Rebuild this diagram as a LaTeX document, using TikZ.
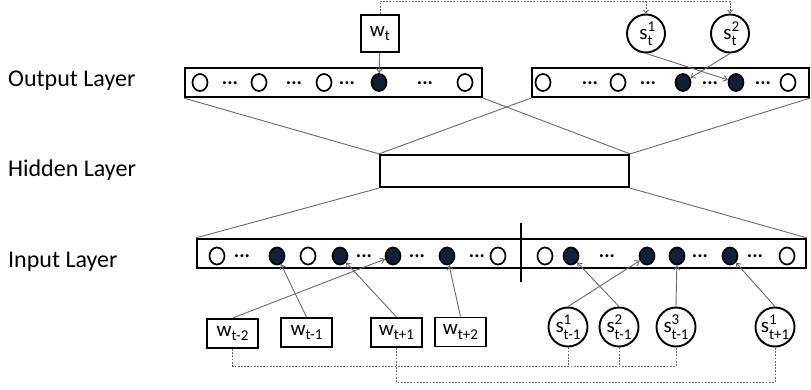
\documentclass[tikz,border=0pt]{standalone}
\usepackage{fontspec}
\setmainfont{Carlito}
\usepackage{tikz}
\usetikzlibrary{shapes.geometric, arrows.meta, positioning}
\definecolor{navy}{RGB}{16,32,56}
\definecolor{linkgray}{RGB}{105,105,105}
\newcommand{\layerfont}{\fontsize{24}{28}\selectfont}
\newcommand{\unitfont}{\fontsize{21}{24}\selectfont}
\newcommand{\dotsfont}{\fontsize{20}{22}\selectfont\bfseries}
\newcommand{\idx}[1]{\raisebox{-4.5pt}{\fontsize{15}{15}\selectfont #1}}
\newcommand{\sense}[2]{s\rlap{\raisebox{8pt}{\fontsize{15}{15}\selectfont #1}}\raisebox{-6.5pt}{\fontsize{15}{15}\selectfont #2}}
\tikzset{
    layer/.style={rectangle, draw, line width=2.2pt, minimum height=29pt, inner sep=0pt},
    lbl/.style={anchor=base west, inner sep=0pt, font=\layerfont},
    wordbox/.style={rectangle, draw, line width=1.9pt, minimum width=51pt, minimum height=29pt, inner sep=0pt, font=\unitfont},
    sensebox/.style={circle, draw, line width=1.9pt, minimum size=39pt, inner sep=0pt, font=\unitfont},
    unit/.style={ellipse, draw, line width=1.7pt, minimum width=15pt, minimum height=17pt, inner sep=0pt},
    hot/.style={unit, fill=navy},
    ellip/.style={inner sep=0pt, font=\dotsfont},
    arrow/.style={-{Straight Barb[length=4pt,width=6pt]}, linkgray, line width=0.9pt},
    link/.style={linkgray, line width=0.9pt},
    dashlink/.style={linkgray, line width=0.9pt, dash pattern=on 1.8pt off 1.4pt}
}

\begin{document}
\begin{tikzpicture}[x=1pt, y=-1pt]
    \useasboundingbox (0,0) rectangle (811,390);

    % layer names
    \node (lout) [lbl] at (8,87) {Output Layer};
    \node (lhid) [lbl] at (8,177) {Hidden Layer};
    \node (linp) [lbl] at (8,267) {Input Layer};

    % layers
    \node (outl) [layer, minimum width=297pt] at (333.5,82.5) {};
    \node (outr) [layer, minimum width=277pt] at (670.5,82.5) {};
    \node (hid) [layer, minimum width=249pt, minimum height=32pt] at (504.5,171) {};
    \node (inp) [layer, minimum width=609pt] at (501.5,253.5) {};
    \draw[line width=2.2pt] (521,223) -- (521,282);

    % output units
    \foreach \x [count=\i] in {200,259,324,465,543,618,788}
        \node (ou\i) [unit] at (\x,82.5) {};
    \node (oa) [hot] at (379,82.5) {};
    \node (ob1) [hot] at (683,82.5) {};
    \node (ob2) [hot] at (736,82.5) {};
    \foreach \x [count=\i] in {230,294,347,425,590,648,710,763}
        \node (od\i) [ellip] at (\x,83) {...};

    % input units
    \foreach \x [count=\i] in {217,308,498,545,787}
        \node (iu\i) [unit] at (\x,256) {};
    \node (ia) [hot] at (277,256) {};
    \node (ib) [hot] at (340,256) {};
    \node (ic) [hot] at (393,256) {};
    \node (id) [hot] at (447,256) {};
    \node (ie) [hot] at (571,256) {};
    \node (if) [hot] at (647,256) {};
    \node (ig) [hot] at (677,256) {};
    \node (ih) [hot] at (730,256) {};
    \foreach \x [count=\i] in {242,364,417,477,607,700,755}
        \node (id\i) [ellip] at (\x,256.5) {...};

    % target word and senses
    \node (wt) [wordbox, minimum width=38pt, minimum height=37pt] at (380,33.5) {w\idx{t}};
    \node (st1) [sensebox, minimum size=38pt] at (646,33.5) {\sense{1}{t}};
    \node (st2) [sensebox, minimum size=38pt] at (730,33.5) {\sense{2}{t}};

    % context words and senses
    \node (wtm2) [wordbox] at (232.5,333.5) {w\idx{t-2}};
    \node (wtm1) [wordbox] at (306.5,332.5) {w\idx{t-1}};
    \node (wtp1) [wordbox] at (396.5,332.5) {w\idx{t+1}};
    \node (wtp2) [wordbox] at (460.5,332) {w\idx{t+2}};
    \node (sc1) [sensebox] at (568,327) {\sense{1}{t-1}};
    \node (sc2) [sensebox] at (619,327) {\sense{2}{t-1}};
    \node (sc3) [sensebox] at (676,327) {\sense{3}{t-1}};
    \node (sc4) [sensebox] at (775,327) {\sense{1}{t+1}};

    % layer links
    \draw[link] (outl.south west) -- (hid.north west);
    \draw[link] (outl.south east) -- (hid.north east);
    \draw[link] (outr.south west) -- (hid.north west);
    \draw[link] (outr.south east) -- (hid.north east);
    \draw[link] (hid.south west) -- (inp.north west);
    \draw[link] (hid.south east) -- (inp.north east);

    % unit arrows
    \draw[arrow] (wt) -- (oa);
    \draw[arrow] (st1.south) -- (ob2);
    \draw[arrow] (st2.south) -- (ob1);
    \draw[arrow] (wtm2.north) -- (ic);
    \draw[arrow] (wtm1.north) -- (ia);
    \draw[arrow] (wtp1.north) -- (ib);
    \draw[arrow] (wtp2.north) -- (id);
    \draw[arrow] (sc1.north) -- (if);
    \draw[arrow] (sc2.north) -- (ie);
    \draw[arrow] (sc3.north) -- (ig);
    \draw[arrow] (sc4.north) -- (ih);

    % dashed groupings
    \coordinate (busT) at (0,1);
    \coordinate (busA) at (0,366);
    \coordinate (busB) at (0,382);
    \draw[dashlink, -{Straight Barb[length=3pt,width=5pt]}] (wt.north) |- (st2.north |- busT) -- (st2.north);
    \draw[dashlink, -{Straight Barb[length=3pt,width=5pt]}] (st1.north |- busT) -- (st1.north);
    \draw[dashlink] (wtm2.south) |- (sc3.south |- busA) -- (sc3.south);
    \draw[dashlink] (sc1.south) -- (sc1.south |- busA);
    \draw[dashlink] (sc2.south) -- (sc2.south |- busA);
    \draw[dashlink] (wtp1.south) |- (sc4.south |- busB) -- (sc4.south);
\end{tikzpicture}
\end{document}
